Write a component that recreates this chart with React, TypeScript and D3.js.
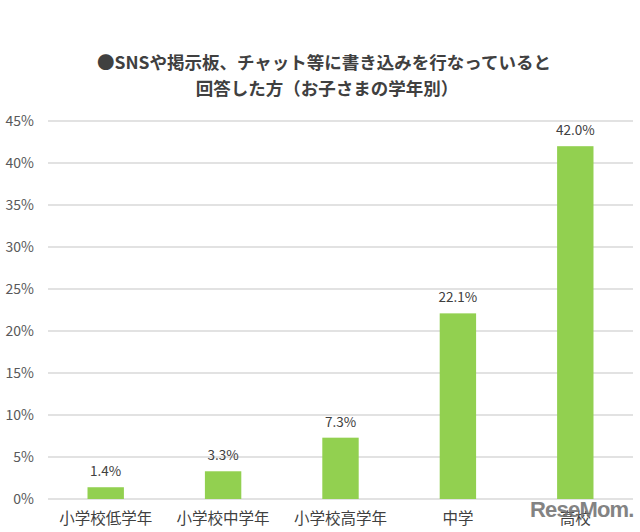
import React from "react";
import * as d3 from "d3";

const categories = ["小学校低学年", "小学校中学年", "小学校高学年", "中学", "高校"];
const values = [1.4, 3.3, 7.3, 22.1, 42.0];
const yTicks = [0, 5, 10, 15, 20, 25, 30, 35, 40, 45];
const titleLines = ["●SNSや掲示板、チャット等に書き込みを行なっていると", "回答した方（お子さまの学年別）"];

const W = 640;
const H = 532;
const FONT = "'Noto Sans CJK JP', 'Noto Sans', sans-serif";

export default function App() {
  const x = d3.scaleBand<string>().domain(categories).range([47, 634]).paddingInner(0.69).paddingOuter(0.345);
  const y = d3.scaleLinear().domain([0, 45]).range([499, 121]);

  return (
    <svg width={W} height={H} style={{ position: "absolute", left: 0, top: 0, background: "#fff" }} fontFamily={FONT}>
      <rect width={W} height={H} fill="#fff" />
      {titleLines.map((t, i) => (
        <text key={i} x={i === 0 ? 324 : 327} y={69 + i * 26} textAnchor="middle" fontSize={17.5} fontWeight="bold" fill="#404040">
          {t}
        </text>
      ))}
      {yTicks.map((t) => (
        <g key={t}>
          <line x1={48} x2={633} y1={y(t)} y2={y(t)} stroke="#d9d9d9" strokeWidth={1.3} />
          <text x={34} y={y(t) + 5} textAnchor="end" fontSize={14} fill="#595959">
            {t}%
          </text>
        </g>
      ))}
      {categories.map((c, i) => {
        const bx = x(c) as number;
        const bw = x.bandwidth();
        return (
          <g key={c}>
            <rect x={bx} y={y(values[i])} width={bw} height={y(0) - y(values[i])} fill="#92D050" />
            <text x={bx + bw / 2} y={y(values[i]) - 11} textAnchor="middle" fontSize={13.5} fill="#404040">
              {values[i].toFixed(1)}%
            </text>
            <text x={bx + bw / 2} y={524} textAnchor="middle" fontSize={15.5} fill="#404040">
              {c}
            </text>
          </g>
        );
      })}
      <text x={530} y={517} fontSize={22} fontWeight="bold" fill="#6e6e6e" opacity={0.85} fontFamily="'Liberation Sans', sans-serif" letterSpacing={-0.8}>
        ReseMom.
      </text>
    </svg>
  );
}
